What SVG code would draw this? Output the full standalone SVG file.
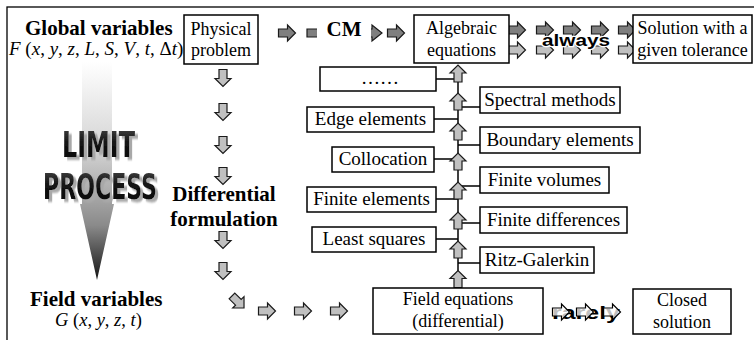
<svg xmlns="http://www.w3.org/2000/svg" width="754" height="340" viewBox="0 0 754 340">
<defs>
<style>
.box{fill:#fff;stroke:#000;stroke-width:1.5}
.t{font-size:18px;fill:#000;text-anchor:middle}
.m{font-size:19px;fill:#000;text-anchor:middle}
.b{font-size:21px;font-weight:bold;fill:#000}
.v{font-size:19px;fill:#000}
.i{font-style:italic}
.dk{fill:#7f7f7f;stroke:#1a1a1a;stroke-width:1.2}
.lt{fill:#c0c0c0;stroke:#1a1a1a;stroke-width:1.2}
.wh{fill:#fff;fill-opacity:0.75;stroke:#000;stroke-width:1.2}
.ln{stroke:#000;stroke-width:1.5;fill:none}
.big{font-family:"DejaVu Sans Condensed","Liberation Sans Narrow","Liberation Sans",sans-serif;font-weight:bold;font-size:24px;filter:url(#sh)}
.wd{font-family:"Liberation Sans",Arial,sans-serif;font-weight:bold;fill:#000;stroke:#fff;stroke-width:2.5;paint-order:stroke}
</style>
<filter id="sh" x="-10%" y="-20%" width="130%" height="150%">
<feDropShadow dx="3" dy="2" stdDeviation="0.6" flood-color="#a8a8a8" flood-opacity="1"/>
</filter>
<path id="ar" d="M-8.5,-4 H0.5 V-8 L8.5,0 L0.5,8 V4 H-8.5 Z"/>
<linearGradient id="col" gradientUnits="userSpaceOnUse" x1="0" y1="62" x2="0" y2="280">
<stop offset="0" stop-color="#ffffff"/>
<stop offset="0.4" stop-color="#d4d4d4"/>
<stop offset="0.65" stop-color="#a0a0a0"/>
<stop offset="0.75" stop-color="#8a8a8a"/>
<stop offset="1" stop-color="#151515"/>
</linearGradient>
<linearGradient id="txt" x1="0" y1="0" x2="0" y2="1">
<stop offset="0" stop-color="#4a4a4a"/>
<stop offset="0.45" stop-color="#151515"/>
<stop offset="1" stop-color="#000"/>
</linearGradient>
</defs>

<rect x="7" y="7" width="770" height="350" fill="none" stroke="#000" stroke-width="1.3"/>

<g id="limit">
<path d="M82,62 H112 V204 H114 L97,280 L80,204 H82 Z" fill="url(#col)"/>
<text class="big" transform="translate(62,157) scale(1,1.48)" x="0" y="0" textLength="73" lengthAdjust="spacingAndGlyphs" fill="url(#txt)">LIMIT</text>
<text class="big" transform="translate(43,199) scale(1,1.48)" x="0" y="0" textLength="114" lengthAdjust="spacingAndGlyphs" fill="url(#txt)">PROCESS</text>
</g>

<g font-family="Liberation Serif, Times New Roman, Tinos, DejaVu Serif, serif">
<g id="global">
<text class="b" x="25" y="35">Global variables</text>
<text class="v" x="9" y="55"><tspan class="i">F</tspan> (<tspan class="i">x</tspan>, <tspan class="i">y</tspan>, <tspan class="i">z</tspan>, <tspan class="i">L</tspan>, <tspan class="i">S</tspan>, <tspan class="i">V</tspan>, <tspan class="i">t</tspan>, Δ<tspan class="i">t</tspan>)</text>
</g>

<g id="field">
<text class="b" x="30" y="306">Field variables</text>
<text class="v" x="55" y="326" style="font-size:18.5px"><tspan class="i">G</tspan> (<tspan class="i">x</tspan>, <tspan class="i">y</tspan>, <tspan class="i">z</tspan>, <tspan class="i">t</tspan>)</text>
</g>

<g id="differential">
<text class="b" x="224" y="201" text-anchor="middle">Differential</text>
<text class="b" x="224" y="226" text-anchor="middle">formulation</text>
</g>

<g id="connectors">
<use href="#ar" class="dk" transform="translate(287,33)"/>
<path class="dk" d="M307,29 H372 V25 L382,33 L372,41 V37 H307 Z"/>
<use href="#ar" class="dk" transform="translate(396,33)"/>
<use href="#ar" class="dk" transform="translate(517,30)"/>
<use href="#ar" class="dk" transform="translate(545,30)"/>
<use href="#ar" class="dk" transform="translate(572,30)"/>
<use href="#ar" class="dk" transform="translate(600,30)"/>
<use href="#ar" class="dk" transform="translate(627,30)"/>
<use href="#ar" class="lt" transform="translate(517,50)"/>
<use href="#ar" class="lt" transform="translate(545,50)"/>
<use href="#ar" class="lt" transform="translate(572,50)"/>
<use href="#ar" class="lt" transform="translate(600,50)"/>
<use href="#ar" class="lt" transform="translate(627,50)"/>
<use href="#ar" class="lt" transform="translate(223,78) rotate(90)"/>
<use href="#ar" class="lt" transform="translate(223,112) rotate(90)"/>
<use href="#ar" class="lt" transform="translate(223,145) rotate(90)"/>
<use href="#ar" class="lt" transform="translate(223,176) rotate(90)"/>
<use href="#ar" class="lt" transform="translate(223,240) rotate(90)"/>
<use href="#ar" class="lt" transform="translate(223,271) rotate(90)"/>
<use href="#ar" class="lt" transform="translate(238,302) rotate(45)"/>
<use href="#ar" class="lt" transform="translate(267,311)"/>
<use href="#ar" class="lt" transform="translate(303,311)"/>
<use href="#ar" class="lt" transform="translate(339,311)"/>
<path class="ln" d="M458,80 V272"/>
<path class="ln" d="M436,79 H458 M434,119 H458 M434,159 H458 M436,199 H458 M436,239 H458"/>
<path class="ln" d="M458,107 H480 M458,145 H480 M458,186 H480 M458,223 H480 M458,263 H480"/>
<use href="#ar" class="lt" transform="translate(458,73.5) rotate(-90)"/>
<use href="#ar" class="lt" transform="translate(458,101.5) rotate(-90)"/>
<use href="#ar" class="lt" transform="translate(458,131.5) rotate(-90)"/>
<use href="#ar" class="lt" transform="translate(458,161.5) rotate(-90)"/>
<use href="#ar" class="lt" transform="translate(458,190.5) rotate(-90)"/>
<use href="#ar" class="lt" transform="translate(458,220.5) rotate(-90)"/>
<use href="#ar" class="lt" transform="translate(458,249.5) rotate(-90)"/>
<use href="#ar" class="lt" transform="translate(458,279) rotate(-90)"/>
</g>

<g id="cm">
<rect x="317" y="20" width="54" height="26" fill="#fff"/>
<text class="b" x="344" y="36" text-anchor="middle">CM</text>
</g>

<g id="always">
<text class="wd" x="542" y="46" font-size="17" textLength="68" lengthAdjust="spacingAndGlyphs">always</text>
</g>

<g id="rarely">
<text x="552" y="319" font-family="Liberation Sans, Arial, sans-serif" font-weight="bold" font-size="18" textLength="68" lengthAdjust="spacingAndGlyphs" fill="#000">rarely</text>
<use href="#ar" class="wh" transform="translate(561,312)"/>
<use href="#ar" class="wh" transform="translate(585,312)"/>
<use href="#ar" class="wh" transform="translate(612,312)"/>
</g>

<g id="physical">
<rect class="box" x="184" y="15" width="74" height="49"/>
<text class="t" x="221" y="35">Physical</text>
<text class="t" x="221" y="56">problem</text>
</g>

<g id="algebraic">
<rect class="box" x="414" y="15" width="95" height="48"/>
<text class="t" x="461.5" y="34">Algebraic</text>
<text class="t" x="461.5" y="56">equations</text>
</g>

<g id="solution">
<rect class="box" x="633" y="15" width="119" height="48"/>
<text class="t" x="692.5" y="34">Solution with a</text>
<text class="t" x="692.5" y="56">given tolerance</text>
</g>

<g id="dots">
<rect class="box" x="320" y="67" width="116" height="24"/>
<text class="m" x="380" y="84">……</text>
</g>
<g id="edge">
<rect class="box" x="307" y="107" width="127" height="25"/>
<text class="m" x="370.5" y="125">Edge elements</text>
</g>
<g id="collocation">
<rect class="box" x="332" y="147" width="102" height="25"/>
<text class="m" x="383" y="165">Collocation</text>
</g>
<g id="finite-elements">
<rect class="box" x="307" y="187" width="129" height="25"/>
<text class="m" x="371.5" y="205">Finite elements</text>
</g>
<g id="least-squares">
<rect class="box" x="312" y="227" width="124" height="25"/>
<text class="m" x="374" y="245">Least squares</text>
</g>

<g id="spectral">
<rect class="box" x="480" y="87" width="140" height="26"/>
<text class="m" x="550" y="106">Spectral methods</text>
</g>
<g id="boundary">
<rect class="box" x="480" y="127" width="160" height="26"/>
<text class="m" x="560" y="146">Boundary elements</text>
</g>
<g id="finite-volumes">
<rect class="box" x="480" y="167" width="129" height="26"/>
<text class="m" x="544.5" y="186">Finite volumes</text>
</g>
<g id="finite-differences">
<rect class="box" x="480" y="207" width="147" height="26"/>
<text class="m" x="553.5" y="226">Finite differences</text>
</g>
<g id="ritz">
<rect class="box" x="480" y="247" width="114" height="26"/>
<text class="m" x="537" y="266">Ritz-Galerkin</text>
</g>

<g id="field-equations">
<rect class="box" x="373" y="288" width="170" height="46"/>
<text class="t" x="458" y="305">Field equations</text>
<text class="t" x="458" y="327">(differential)</text>
</g>

<g id="closed">
<rect class="box" x="633" y="289" width="98" height="45"/>
<text class="t" x="682" y="306">Closed</text>
<text class="t" x="682" y="328">solution</text>
</g>
</g>
</svg>
